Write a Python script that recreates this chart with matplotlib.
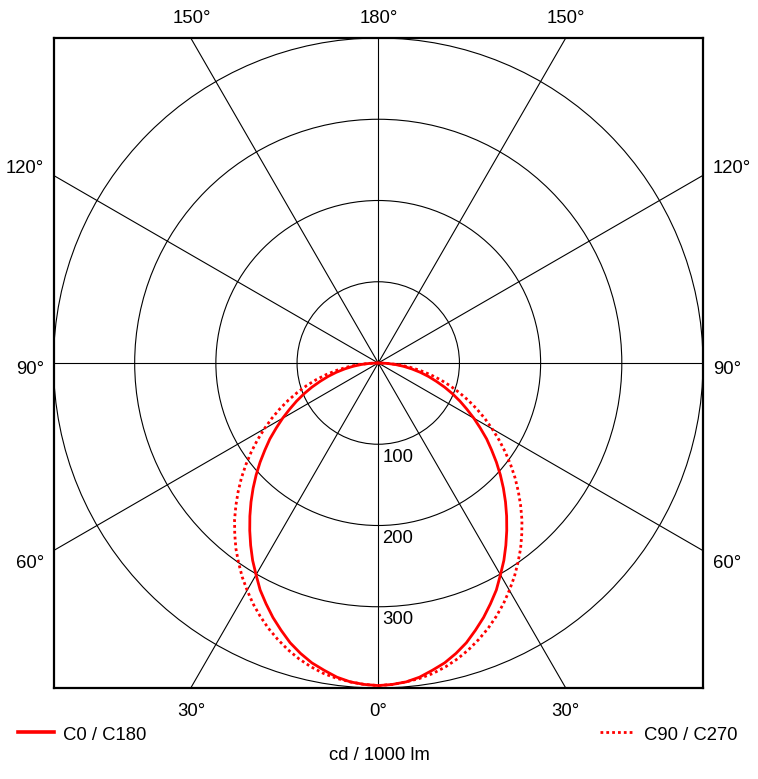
import numpy as np
import matplotlib
matplotlib.use("Agg")
import matplotlib.pyplot as plt
from matplotlib.patches import Circle
from matplotlib.lines import Line2D

plt.rcParams['font.family'] = ['Liberation Sans', 'DejaVu Sans']

# ---- data (cd / 1000 lm), gamma angle 0..90 deg ----
gamma = [0, 2.5, 5, 7.5, 10, 12.5, 15, 17.5, 20, 22.5, 25, 27.5, 30, 32.5, 35, 37.5, 40,
         42.5, 45, 47.5, 50, 52.5, 55, 57.5, 60, 62.5, 65, 67.5, 70, 72.5, 75, 77.5, 80,
         82.5, 85, 87.5, 90]
c0_c180 = [397, 396, 394, 390, 384, 378, 370, 361, 350, 339, 327, 315, 301, 288, 274, 260, 246,
           232, 218, 204, 190, 176, 163, 149, 136, 123, 111, 99, 87, 75, 64, 53, 42,
           31.5, 21, 10.5, 0]
c90_c270 = [397, 396, 394, 391.5, 388, 383, 377, 370, 362, 353.5, 344, 334, 323, 312, 300, 288, 275,
            262, 248, 234, 220, 205.5, 191, 176.5, 162, 148, 134, 120, 106, 92.5, 79, 65.5, 52,
            39, 26, 13, 0]
ring_values = [100, 200, 300, 400]
ring_labels = ["100", "200", "300"]
spoke_angles = list(range(0, 360, 30))
series_names = ["C0 / C180", "C90 / C270"]
unit_label = "cd / 1000 lm"
rmax = 400

W, H = 758, 779
fig = plt.figure(figsize=(W / 100, H / 100), dpi=100)
L, R, T, B = 53.5, 703, 38, 688
ax = fig.add_axes([L / W, 1 - B / H, (R - L) / W, (B - T) / H])
ax.set_xlim(-rmax, rmax)
ax.set_ylim(-rmax, rmax)
ax.set_xticks([])
ax.set_yticks([])
for s in ax.spines.values():
    s.set_linewidth(1.6)
    s.set_color('black')

# grid circles
for rv in ring_values:
    ax.add_patch(Circle((0, 0), rv, fill=False, color='black', lw=0.8, zorder=1))
# spokes
for a in spoke_angles:
    t = np.deg2rad(a)
    ax.plot([0, 2000 * np.sin(t)], [0, -2000 * np.cos(t)], color='black', lw=0.8, zorder=1)

# curves (mirror about nadir)
def polar_xy(vals):
    g = np.deg2rad(np.array(gamma, dtype=float))
    v = np.array(vals, dtype=float)
    g_full = np.concatenate([-g[::-1], g[1:]])
    v_full = np.concatenate([v[::-1], v[1:]])
    return v_full * np.sin(g_full), -v_full * np.cos(g_full)

x0, y0 = polar_xy(c0_c180)
ax.plot(x0, y0, color='#ff0000', lw=2.0, zorder=3, solid_capstyle='round', solid_joinstyle='round')
x1, y1 = polar_xy(c90_c270)
ax.plot(x1, y1, color='#ff0000', lw=2.0, zorder=3, linestyle=(0, (1, 1.1)), dash_capstyle='butt')

# ring labels
for rv, lab in zip(ring_values, ring_labels):
    ax.annotate(lab, (0, -rv), xytext=(4, -17.5), textcoords='offset pixels',
                ha='left', va='baseline', fontsize=13.3, color='black', zorder=4)

fs = 13.3
def ftext(x, y, s, ha='center'):
    fig.text(x / W, 1 - y / H, s, ha=ha, va='baseline', fontsize=fs, color='black')

# angle labels
ftext(191.5, 23.3, "150°")
ftext(378.5, 23.3, "180°")
ftext(565.5, 23.3, "150°")
ftext(191.5, 716, "30°")
ftext(378.5, 716, "0°")
ftext(565.5, 716, "30°")
for lab, yb in [("120°", 173), ("90°", 374), ("60°", 568.3)]:
    ftext(44, yb, lab, ha='right')
    ftext(713, yb, lab, ha='left')

# legend
fig.add_artist(Line2D([18 / W, 54 / W], [1 - 732 / H, 1 - 732 / H], color='#ff0000', lw=2.6))
ftext(63, 739.5, series_names[0], ha='left')
fig.add_artist(Line2D([600 / W, 633 / W], [1 - 732 / H, 1 - 732 / H], color='#ff0000', lw=2.0,
                      linestyle=(0, (1, 1.1)), dash_capstyle='butt'))
ftext(644, 739.5, series_names[1], ha='left')
ftext(379.5, 760, unit_label)

fig.savefig("out.png", dpi=100, facecolor='white')
